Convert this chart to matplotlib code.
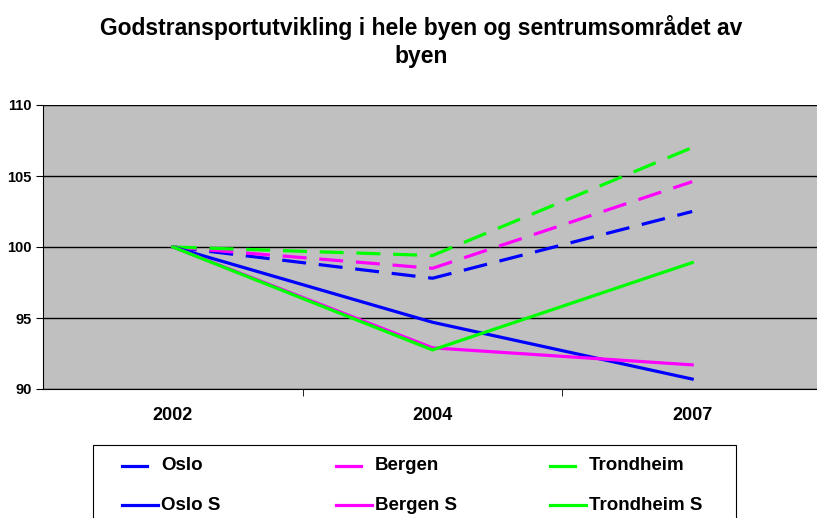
import numpy as np
import matplotlib.pyplot as plt
from matplotlib.lines import Line2D
from matplotlib.patches import Rectangle

plt.rcParams['font.family'] = ['Liberation Sans', 'DejaVu Sans']

years = ['2002', '2004', '2007']
oslo = [100, 97.8, 102.5]
bergen = [100, 98.5, 104.6]
trondheim = [100, 99.4, 107.0]
oslo_s = [100, 94.7, 90.7]
bergen_s = [100, 92.9, 91.7]
trondheim_s = [100, 92.75, 98.9]

blue = '#0000FF'
pink = '#FF00FF'
green = '#00FF00'

W, H = 817, 518
fig = plt.figure(figsize=(W/100, H/100), dpi=100)
ax = fig.add_axes([43/W, 1-389/H, 779/W, 284/H])
ax.set_facecolor('#C0C0C0')

x = np.arange(len(years))
lw = 2.3
dash = (7.5, 4)
series = [
    ('Oslo', oslo, blue, dash),
    ('Bergen', bergen, pink, dash),
    ('Trondheim', trondheim, green, dash),
    ('Oslo S', oslo_s, blue, None),
    ('Bergen S', bergen_s, pink, None),
    ('Trondheim S', trondheim_s, green, None),
]
for name, vals, col, d in series:
    if d:
        ax.plot(x, vals, color=col, lw=lw, dashes=d, zorder=3)
    else:
        ax.plot(x, vals, color=col, lw=lw, zorder=3)

ax.set_xlim(-0.5, 2.5)
ax.set_ylim(90, 110)
ax.set_yticks([90, 95, 100, 105, 110])
ax.yaxis.grid(True, color='black', lw=1)
ax.set_axisbelow(True)

ax.set_xticks(x)
ax.set_xticklabels(years, fontsize=13, fontweight='bold')
ax.set_xticks([0.5, 1.5], minor=True)
ax.tick_params(axis='x', which='major', length=0, pad=13)
ax.tick_params(axis='x', which='minor', length=5, color='black')
ax.tick_params(axis='y', length=5, labelsize=10.5, pad=3)
for lab in ax.get_yticklabels():
    lab.set_fontweight('bold')

for s in ['top', 'right']:
    ax.spines[s].set_visible(False)

fig.text(0.515, 1-28/H, 'Godstransportutvikling i hele byen og sentrumsområdet av',
         ha='center', va='center', fontsize=16.5, fontweight='bold')
fig.text(0.515, 1-57/H, 'byen', ha='center', va='center', fontsize=16.5, fontweight='bold')

# legend box drawn by hand (bottom runs off the figure like in the original)
fig.patches.append(Rectangle((93/W, -0.05), (736-93)/W, 0.05+1-445/H,
                             transform=fig.transFigure, fill=False,
                             edgecolor='black', lw=0.8))
col_x = [122, 336, 550]
row_y = [466, 505]
for i, (name, vals, col, d) in enumerate(series):
    cx = col_x[i % 3]
    ry = 1 - row_y[i // 3]/H
    if d:
        fig.lines.append(Line2D([cx/W, (cx+25)/W], [ry, ry], color=col, lw=lw,
                                transform=fig.transFigure))
    else:
        fig.lines.append(Line2D([cx/W, (cx+36)/W], [ry, ry], color=col, lw=lw,
                                transform=fig.transFigure))
    fig.text((cx+39)/W, ry, name, ha='left', va='center', fontsize=13.5,
             fontweight='bold')

fig.savefig('out.png', dpi=100)
